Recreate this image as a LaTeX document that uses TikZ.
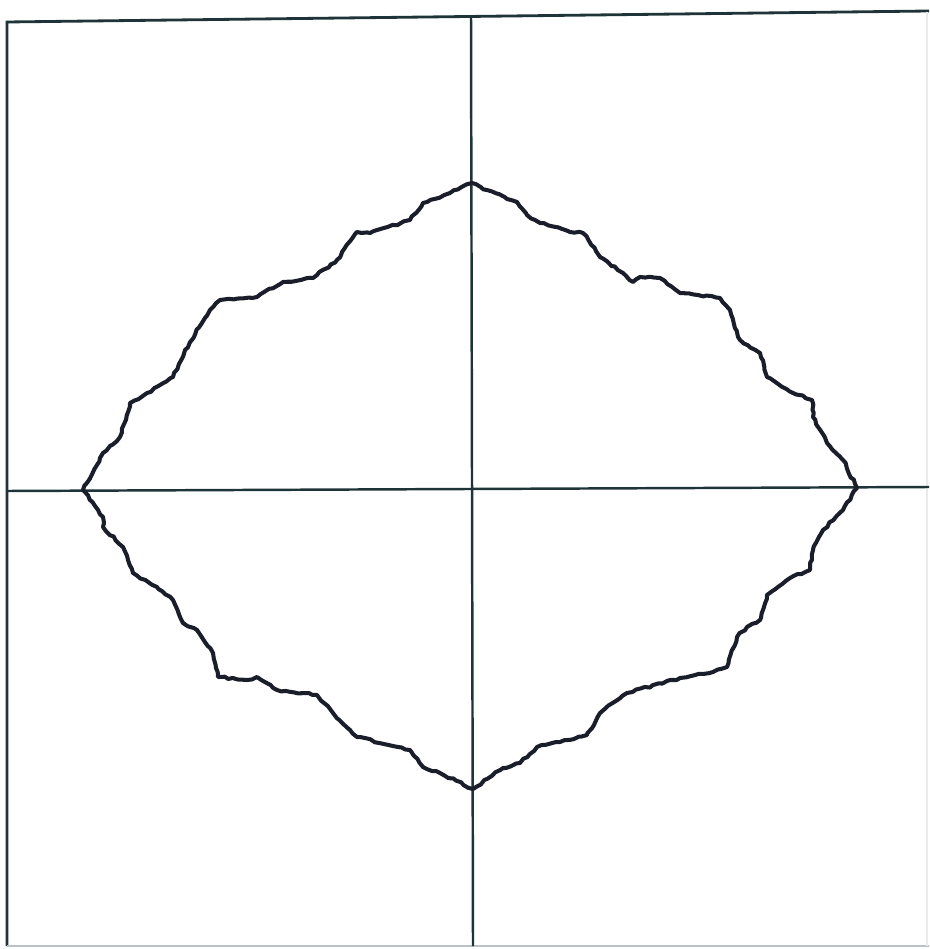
\documentclass[tikz,border=0pt]{standalone}
\usepackage{tikz}
\usetikzlibrary{decorations.pathmorphing}
\definecolor{AxisInk}{RGB}{30,52,56}
\definecolor{CurveInk}{RGB}{26,30,42}

\begin{document}
\begin{tikzpicture}[x=0.01cm,y=-0.01cm,
        frame/.style={AxisInk,line width=0.8pt},
        faintframe/.style={AxisInk!30,line width=0.5pt},
        axis/.style={AxisInk,line width=0.7pt},
        fractal/.style={CurveInk,line width=1.15pt,line join=round,
                        decorate,decoration={random steps,
                        segment length=1.3pt,amplitude=0.3pt}}
      ]
        \useasboundingbox (0,0) rectangle (929,949);
        \pgfmathsetseed{4}
        % box and axes
        \coordinate (tl) at (7,22);
        \coordinate (tr) at (929,11);
        \coordinate (bl) at (7,946);
        \coordinate (br) at (929,946);
        \draw[frame] (bl)--(tl)--(tr);
        \draw[faintframe] (bl)--(br);
        \draw[AxisInk!10,line width=0.4pt] (927,12)--(927,946);
        \draw[axis] (471,16)--(473,946);
        \draw[axis] (7,491)--(929,487);
        % the curve
        \draw[fractal]
          (83,490) -- (103,453) -- (120,437) -- (130,403) -- (147,393)
          -- (173,377) -- (185,350) -- (210,310) -- (220,300) -- (257,297)
          -- (283,282) -- (313,278) -- (337,260) -- (357,232) -- (370,233)
          -- (410,220) -- (423,203) -- (450,193) -- (472,183)
          -- (487,190) -- (517,202) -- (527,215) -- (540,223) -- (570,232)
          -- (583,233) -- (600,257) -- (623,273) -- (633,282) -- (640,277)
          -- (660,278) -- (680,293) -- (720,298) -- (730,310) -- (740,340)
          -- (760,353) -- (767,377) -- (793,393) -- (812,400) -- (813,417)
          -- (827,443) -- (843,460) -- (857,488)
          -- (843,510) -- (823,530) -- (813,550) -- (810,570) -- (790,578)
          -- (767,595) -- (760,620) -- (747,627) -- (737,637) -- (727,667)
          -- (713,672) -- (680,678) -- (627,693) -- (600,713) -- (587,735)
          -- (560,742) -- (537,747) -- (520,763) -- (503,768) -- (473,789)
          -- (440,773) -- (423,767) -- (410,750) -- (357,737) -- (350,730)
          -- (333,713) -- (317,695) -- (277,690) -- (257,677) -- (247,680)
          -- (218,677) -- (213,653) -- (197,630) -- (183,623) -- (173,600)
          -- (157,587) -- (133,573) -- (123,547) -- (103,527) -- (103,517)
          -- cycle;
      \end{tikzpicture}
\end{document}
